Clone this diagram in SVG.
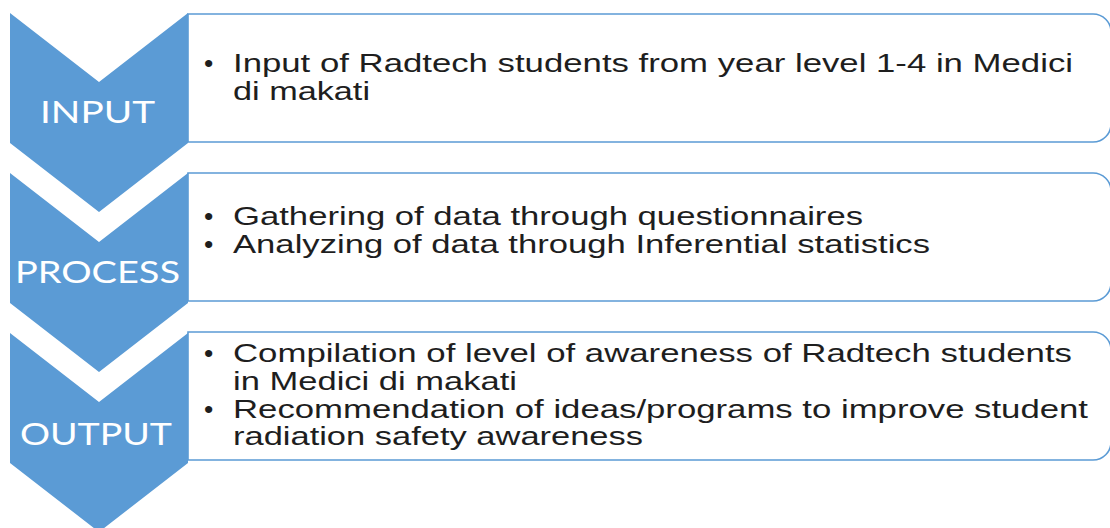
<svg xmlns="http://www.w3.org/2000/svg" width="1110" height="528" viewBox="0 0 1110 528">
  <style>
    .box { fill: #ffffff; stroke: #5b9bd5; stroke-width: 1.6; }
    .chev { fill: #5b9bd5; }
    .stage { font-family: Lato, "Open Sans", sans-serif; font-size: 31px; fill: #ffffff; }
    .item { font-family: "Liberation Sans", Arial, sans-serif; font-size: 26.5px; fill: #1e1e1e; }
  </style>
  <defs>
    <!-- panel with square left side and rounded right corners -->
    <path id="panel" d="M188,0 H1093 A18,18 0 0 1 1111,18 V110 A18,18 0 0 1 1093,128 H188 Z"/>
    <path id="chevron" d="M10,0 L99,69 L188,0 L188,130 L99,199 L10,130 Z"/>
  </defs>

  <g id="input">
    <use href="#panel" class="box" transform="translate(0,14)"/>
    <use href="#chevron" class="chev" transform="translate(0,13)"/>
    <text class="stage" x="40" y="123" textLength="115" lengthAdjust="spacingAndGlyphs">INPUT</text>
    <text class="item" x="204" y="72">•</text>
    <text class="item" x="233" y="72" textLength="840" lengthAdjust="spacingAndGlyphs">Input of Radtech students from year level 1-4 in Medici</text>
    <text class="item" x="233" y="100" textLength="137" lengthAdjust="spacingAndGlyphs">di makati</text>
  </g>

  <g id="process">
    <use href="#panel" class="box" transform="translate(0,173)"/>
    <use href="#chevron" class="chev" transform="translate(0,173)"/>
    <text class="stage" x="15" y="283" textLength="165" lengthAdjust="spacingAndGlyphs">PROCESS</text>
    <text class="item" x="204" y="225">•</text>
    <text class="item" x="233" y="225" textLength="630" lengthAdjust="spacingAndGlyphs">Gathering of data through questionnaires</text>
    <text class="item" x="204" y="253">•</text>
    <text class="item" x="233" y="253" textLength="697" lengthAdjust="spacingAndGlyphs">Analyzing of data through Inferential statistics</text>
  </g>

  <g id="output">
    <use href="#panel" class="box" transform="translate(0,332)"/>
    <use href="#chevron" class="chev" transform="translate(0,333)"/>
    <text class="stage" x="20" y="445" textLength="152" lengthAdjust="spacingAndGlyphs">OUTPUT</text>
    <text class="item" x="204" y="362">•</text>
    <text class="item" x="233" y="362" textLength="839" lengthAdjust="spacingAndGlyphs">Compilation of level of awareness of Radtech students</text>
    <text class="item" x="233" y="390" textLength="284" lengthAdjust="spacingAndGlyphs">in Medici di makati</text>
    <text class="item" x="204" y="418">•</text>
    <text class="item" x="233" y="418" textLength="855" lengthAdjust="spacingAndGlyphs">Recommendation of ideas/programs to improve student</text>
    <text class="item" x="233" y="445" textLength="410" lengthAdjust="spacingAndGlyphs">radiation safety awareness</text>
  </g>

  <g id="connectors"></g>
</svg>
